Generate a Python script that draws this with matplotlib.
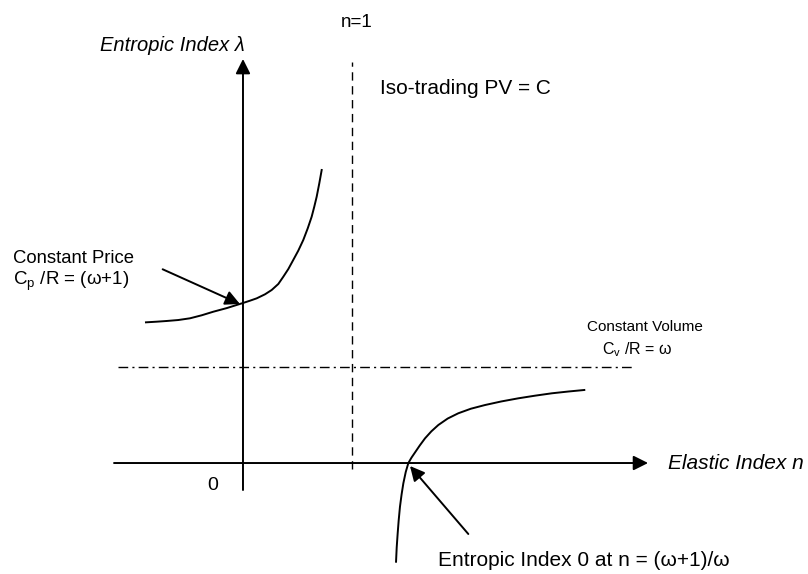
import matplotlib
matplotlib.use("Agg")
import matplotlib.pyplot as plt

plt.rcParams['font.family'] = ['Liberation Sans', 'DejaVu Sans']
plt.rcParams['mathtext.fontset'] = 'custom'
plt.rcParams['mathtext.rm'] = 'Liberation Sans'

# values (n = elastic index, lam = entropic index, omega level = 1.5)
omega = 1.5
n_left = [-0.890, -0.792, -0.700, -0.594, -0.486, -0.379, -0.272, -0.150, 0.0, 0.064, 0.126,
          0.202, 0.263, 0.324, 0.370, 0.416, 0.461, 0.507, 0.553, 0.594, 0.630, 0.654, 0.676,
          0.700, 0.722]
lam_left = [2.198, 2.208, 2.219, 2.234, 2.261, 2.308, 2.364, 2.420, 2.5, 2.536, 2.573,
            2.636, 2.703, 2.797, 2.911, 3.031, 3.172, 3.317, 3.484, 3.667, 3.848, 4.005, 4.161,
            4.370, 4.578]
n_right = [1.404, 1.410, 1.419, 1.428, 1.440, 1.455, 1.471, 1.493, 1.517, 1.546, 1.578, 1.622,
           1.670, 1.728, 1.792, 1.878, 1.975, 2.090, 2.220, 2.370, 2.526, 2.679, 2.832, 2.984,
           3.131]
lam_right = [-1.542, -1.320, -1.098, -0.900, -0.683, -0.490, -0.317, -0.140, 0.0, 0.085, 0.165,
             0.275, 0.386, 0.495, 0.594, 0.695, 0.777, 0.848, 0.906, 0.962, 1.011, 1.052, 1.089,
             1.117, 1.141]
n_iso = 1.0
n_zero = 1.517
lam_p = 2.5

fig = plt.figure(figsize=(8.08, 5.74), dpi=100)
ax = fig.add_axes([0, 0, 1, 1])
ax.set_xlim(-2.229, 5.183)
ax.set_ylim(-1.734, 7.234)
ax.axis('off')

arrow = dict(arrowstyle='-|>', color='black', lw=1.4, mutation_scale=22, shrinkA=0, shrinkB=0)

# axes with arrow heads
ax.annotate('', xy=(3.716, 0), xytext=(-1.183, 0), arrowprops=arrow)
ax.annotate('', xy=(0, 6.3125), xytext=(0, -0.422), arrowprops=arrow)

# asymptotes
ax.plot([n_iso, n_iso], [-0.1, 6.266], color='black', lw=1.0, linestyle=(0, (6, 4)))
ax.plot([-1.147, 3.578], [omega, omega], color='black', lw=1.0, linestyle=(0, (7, 3, 1.5, 3)))

# curves
ax.plot(n_left, lam_left, color='black', lw=1.4, solid_joinstyle='round')
ax.plot(n_right, lam_right, color='black', lw=1.4, solid_joinstyle='round')

# pointer arrows
ax.annotate('', xy=(-0.028, lam_p - 0.016), xytext=(-0.737, 3.027), arrowprops=arrow)
ax.annotate('', xy=(n_zero + 0.015, -0.047), xytext=(2.067, -1.109), arrowprops=arrow)

# text
ax.text(1.046, 6.89, 'n=1', ha='center', va='center', fontsize=13.5)
ax.text(0.018, 6.516, 'Entropic Index λ', ha='right', va='center', fontsize=14.5, style='italic')
ax.text(1.257, 5.859, 'Iso-trading PV = C', ha='left', va='center', fontsize=15)
ax.text(-2.110, 3.20, 'Constant Price', ha='left', va='center', fontsize=13.3)
ax.text(-2.110, 2.84, r'C$_{\mathrm{p}}$ /R = (ω+1)', ha='left', va='center', fontsize=13.5)
ax.text(3.156, 2.125, 'Constant Volume', ha='left', va='center', fontsize=11)
ax.text(3.294, 1.766, r'C$_{\mathrm{v}}$ /R = ω', ha='left', va='center', fontsize=11.5)
ax.text(3.899, 0.0, 'Elastic Index n', ha='left', va='center', fontsize=15, style='italic')
ax.text(1.789, -1.516, 'Entropic Index 0 at n = (ω+1)/ω', ha='left', va='center', fontsize=15)
ax.text(-0.275, -0.344, '0', ha='center', va='center', fontsize=14)

fig.savefig('out.png', dpi=100)
